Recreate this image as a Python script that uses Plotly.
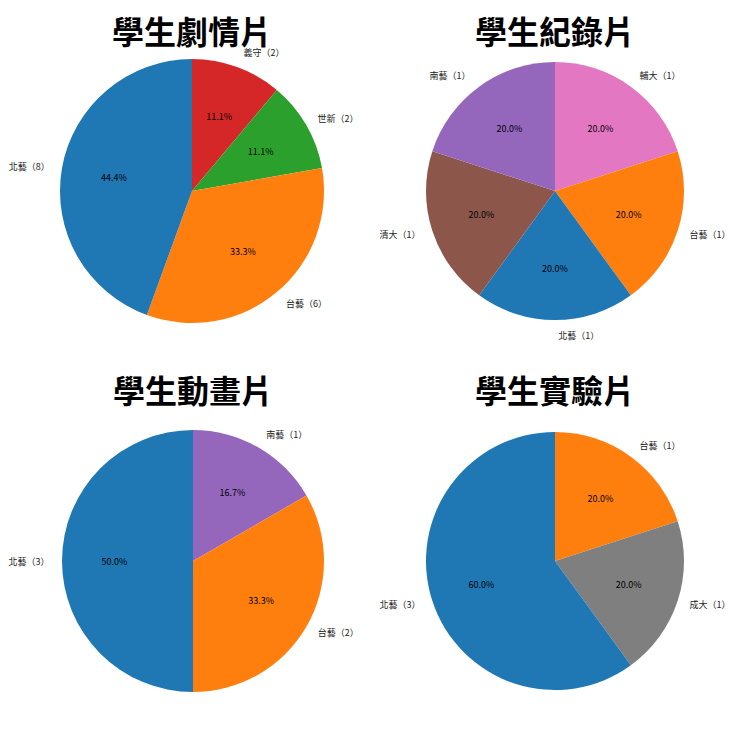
import plotly.graph_objects as go

# ---- data ----
titles = ["學生劇情片", "學生紀錄片", "學生動畫片", "學生實驗片"]

drama_labels = ["義守", "世新", "台藝", "北藝"]
drama_values = [2, 2, 6, 8]

doc_labels = ["輔大", "台藝", "北藝", "清大", "南藝"]
doc_values = [1, 1, 1, 1, 1]

anim_labels = ["南藝", "台藝", "北藝"]
anim_values = [1, 2, 3]

exp_labels = ["台藝", "成大", "北藝"]
exp_values = [1, 1, 3]

school_colors = {
    "北藝": "#1f77b4", "台藝": "#ff7f0e", "世新": "#2ca02c", "義守": "#d62728",
    "南藝": "#9467bd", "清大": "#8c564b", "輔大": "#e377c2", "成大": "#7f7f7f",
}

# layout: page offset of the figure (browser body margin)
OFF = 8
W = H = 740 - OFF
# (cx, cy, r) in page pixels
geoms = [(192, 191, 132), (555, 191, 129), (193, 561, 131), (555, 561, 129)]
title_top = [8, 8, 367, 367]  # top of the title text box, page pixels

datasets = [(drama_labels, drama_values), (doc_labels, doc_values),
            (anim_labels, anim_values), (exp_labels, exp_values)]

fig = go.Figure()
FONT = "Noto Sans CJK TC"


def domain(cx, cy, r):
    x = cx - OFF
    y = cy - OFF
    return dict(x=[(x - r) / W, (x + r) / W],
                y=[(H - y - r) / H, (H - y + r) / H])


for (labels, values), (cx, cy, r) in zip(datasets, geoms):
    colors = [school_colors[l] for l in labels]
    texts = [f"{l}（{v}）" for l, v in zip(labels, values)]
    common = dict(labels=labels, values=values, sort=False,
                  direction="clockwise", rotation=0, showlegend=False)
    # filled pie
    fig.add_trace(go.Pie(
        **common, domain=domain(cx, cy, r),
        marker=dict(colors=colors, line=dict(width=0)),
        textinfo="none", hoverinfo="label+value+percent",
    ))
    # transparent ring carrying the percentages at ~0.6 r
    fig.add_trace(go.Pie(
        **common, domain=domain(cx, cy, r * 0.8), hole=0.5,
        marker=dict(colors=["rgba(0,0,0,0)"] * len(labels), line=dict(width=0)),
        texttemplate="%{percent:.1%}", textposition="inside",
        insidetextorientation="horizontal",
        textfont=dict(family=FONT, size=9, color="black"),
        hoverinfo="skip",
    ))
    # transparent pie carrying the outside labels
    fig.add_trace(go.Pie(
        **common, domain=domain(cx, cy, r * 1.07),
        marker=dict(colors=["rgba(0,0,0,0)"] * len(labels), line=dict(width=0)),
        text=texts, texttemplate="%{text}", textposition="outside",
        textfont=dict(family=FONT, size=9, color="#222"),
        hoverinfo="skip", automargin=False,
    ))

for t, (cx, _, _), tt in zip(titles, geoms, title_top):
    fig.add_annotation(text=f"<b>{t}</b>", x=(cx - OFF) / W,
                       y=1 - (tt - OFF) / H, yshift=3,
                       xref="paper", yref="paper", showarrow=False,
                       xanchor="center", yanchor="top",
                       font=dict(family=FONT, size=32, color="black"))

fig.update_layout(width=W, height=H, margin=dict(l=0, r=0, t=0, b=0),
                  paper_bgcolor="white", plot_bgcolor="white")

fig.write_html("out.html")
